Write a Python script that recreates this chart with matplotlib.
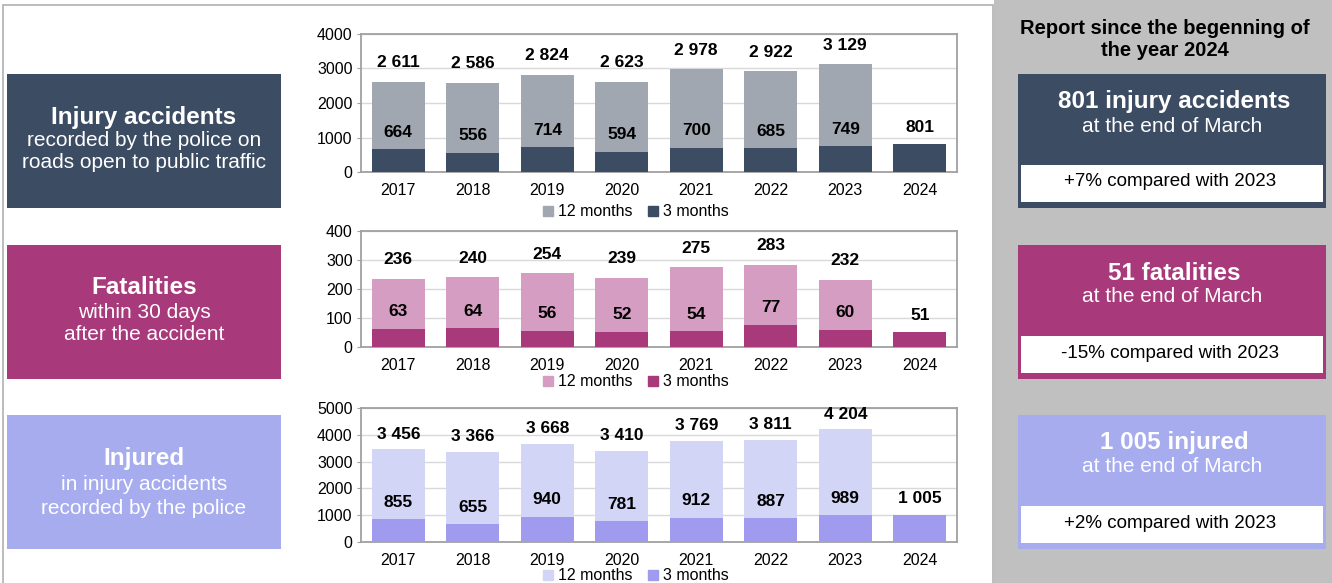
import matplotlib
matplotlib.use("Agg")
import matplotlib.pyplot as plt
from matplotlib.patches import Rectangle
from matplotlib.lines import Line2D

plt.rcParams['font.family'] = ['Liberation Sans', 'DejaVu Sans']

years = ["2017", "2018", "2019", "2020", "2021", "2022", "2023", "2024"]
acc_12m = [2611, 2586, 2824, 2623, 2978, 2922, 3129, None]
acc_3m = [664, 556, 714, 594, 700, 685, 749, 801]
fat_12m = [236, 240, 254, 239, 275, 283, 232, None]
fat_3m = [63, 64, 56, 52, 54, 77, 60, 51]
inj_12m = [3456, 3366, 3668, 3410, 3769, 3811, 4204, None]
inj_3m = [855, 655, 940, 781, 912, 887, 989, 1005]
legend_labels = ["12 months", "3 months"]

W, H = 1332, 583
fig = plt.figure(figsize=(W / 100, H / 100), dpi=100)


def frac(x0, y0, x1, y1):
    return [x0 / W, 1 - y1 / H, (x1 - x0) / W, (y1 - y0) / H]


def fmt(v):
    return f"{v:,}".replace(",", " ")


def add_rect(x0, y0, x1, y1, fc, ec="none", lw=0, z=0):
    r = Rectangle((x0 / W, 1 - y1 / H), (x1 - x0) / W, (y1 - y0) / H,
                  transform=fig.transFigure, facecolor=fc, edgecolor=ec,
                  linewidth=lw, zorder=z)
    fig.patches.append(r)


def ftext(x, y, s, **kw):
    fig.text(x / W, 1 - y / H, s, ha="center", va="center", **kw)


# outer frame & right panel
add_rect(3, 5, 993, 590, "white", ec="#b0b0b0", lw=1.2, z=0)
add_rect(994, 0, 1332, 583, "#c0c0c0", z=0)

navy = "#3c4c63"
gray12 = "#a0a7b1"
mag = "#a8397a"
pink = "#d69dc2"
lav_box = "#a6acee"
lav3 = "#a09bee"
lav12 = "#d2d5f6"

# left boxes
add_rect(7, 74, 281, 208, navy, z=1)
add_rect(7, 245, 281, 379, mag, z=1)
add_rect(7, 415, 281, 549, lav_box, z=1)

big, sub = 17.5, 15
ftext(144, 117, "Injury accidents", color="white", fontsize=big, fontweight="bold")
ftext(144, 140, "recorded by the police on", color="white", fontsize=sub)
ftext(144, 163, "roads open to public traffic", color="white", fontsize=sub)

ftext(144, 288, "Fatalities", color="white", fontsize=big, fontweight="bold")
ftext(144, 312, "within 30 days", color="white", fontsize=sub)
ftext(144, 335, "after the accident", color="white", fontsize=sub)

ftext(144, 458, "Injured", color="white", fontsize=big, fontweight="bold")
ftext(144, 484, "in injury accidents", color="white", fontsize=sub)
ftext(144, 508, "recorded by the police", color="white", fontsize=sub)

# right side
ftext(1165, 28, "Report since the begenning of", color="black", fontsize=14.5, fontweight="bold")
ftext(1165, 51, "the year 2024", color="black", fontsize=14.5, fontweight="bold")

right = [
    (74, 208, navy, "801 injury accidents", "+7% compared with 2023"),
    (245, 379, mag, "51 fatalities", "-15% compared with 2023"),
    (415, 549, lav_box, "1 005 injured", "+2% compared with 2023"),
]
for (y0, y1, c, t1, t2) in right:
    add_rect(1018, y0, 1326, y1, c, z=1)
    add_rect(1021, y0 + 91, 1323, y0 + 128, "white", z=2)
    ftext(1174, y0 + 28, t1, color="white", fontsize=17.5, fontweight="bold")
    ftext(1172, y0 + 52, "at the end of March", color="white", fontsize=15)
    ftext(1170, y0 + 108, t2, color="black", fontsize=13.5)

# charts
charts = [
    ((361, 34, 957, 172), acc_12m, acc_3m, gray12, navy, 4000, 1000, 212, 19),
    ((361, 231, 957, 347), fat_12m, fat_3m, pink, mag, 400, 100, 382, 19),
    ((361, 408, 957, 542), inj_12m, inj_3m, lav12, lav3, 5000, 1000, 576, 15),
]
xs = list(range(len(years)))
for (rect, v12, v3, c12, c3, ymax, step, legy, off12) in charts:
    ax = fig.add_axes(frac(*rect))
    ax.set_zorder(3)
    ax.set_xlim(-0.5, len(years) - 0.5)
    ax.set_ylim(0, ymax)
    ax.set_yticks(range(0, ymax + 1, step))
    ax.grid(axis="y", color="#d9d9d9", linewidth=1.0)
    ax.set_axisbelow(True)
    for sp in ax.spines.values():
        sp.set_color("#a0a0a0")
        sp.set_linewidth(1.3)
    ax.tick_params(axis="x", length=0, labelsize=11.5, pad=8)
    ax.tick_params(axis="y", length=3, color="#a0a0a0", labelsize=11.5, pad=3)
    ax.set_xticks(xs)
    ax.set_xticklabels(years)
    xv = [x for x, v in zip(xs, v12) if v is not None]
    vv = [v for v in v12 if v is not None]
    ax.bar(xv, vv, width=0.71, color=c12, zorder=2)
    ax.bar(xs, v3, width=0.71, color=c3, zorder=3)
    for x, v in zip(xv, vv):
        ax.annotate(fmt(v), (x, v), xytext=(0, off12 * 0.72), textcoords="offset points",
                    ha="center", va="center", fontsize=12.5, fontweight="bold", zorder=5)
    for x, v in zip(xs, v3):
        ax.annotate(fmt(v), (x, v), xytext=(0, 17 * 0.72), textcoords="offset points",
                    ha="center", va="center", fontsize=12.5, fontweight="bold", zorder=5)
    handles = [Line2D([], [], marker="s", linestyle="none", markersize=7, color=c12),
               Line2D([], [], marker="s", linestyle="none", markersize=7, color=c3)]
    fig.legend(handles, legend_labels, loc="center", bbox_to_anchor=(636 / W, 1 - legy / H),
               ncol=2, frameon=False, fontsize=11.5, handlelength=0.6, handletextpad=0.3,
               columnspacing=1.0, borderpad=0)

fig.savefig("out.png", dpi=100)
